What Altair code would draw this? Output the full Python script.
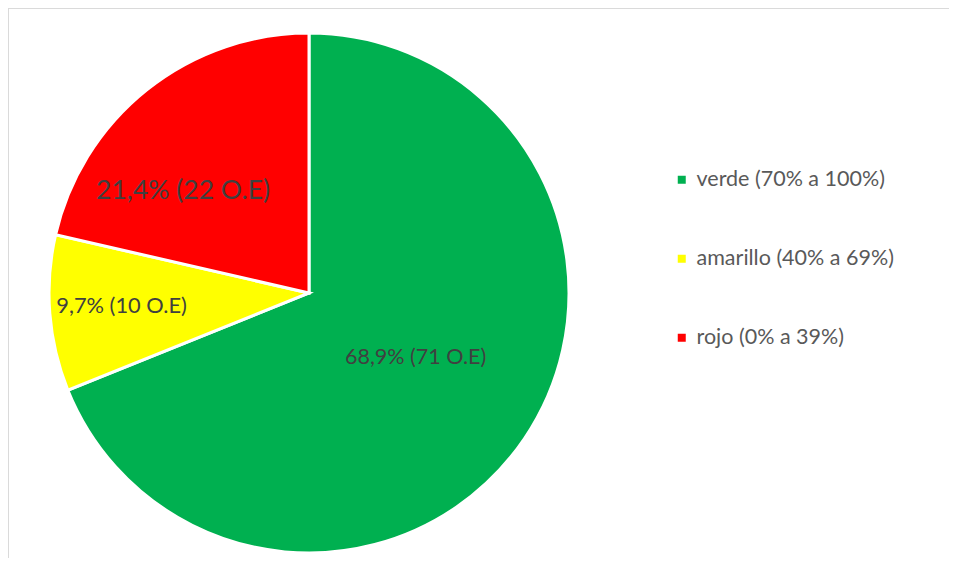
import altair as alt
import pandas as pd

categorias = ["verde (70% a 100%)", "amarillo (40% a 69%)", "rojo (0% a 39%)"]
porcentajes = [68.9, 9.7, 21.4]
cantidades = [71, 10, 22]
colores = ["#00B050", "#FFFF00", "#FF0000"]

df = pd.DataFrame({
    "categoria": categorias,
    "porcentaje": porcentajes,
    "cantidad": cantidades,
    "orden": list(range(len(categorias))),
})
df["etiqueta"] = [
    f"{str(p).replace('.', ',')}% ({c} O.E)" for p, c in zip(porcentajes, cantidades)
]

W, H = 941, 550
CX, CY, R = 301, 285, 260

pie = alt.Chart(df).mark_arc(
    x=CX, y=CY, outerRadius=R, stroke="white", strokeWidth=3
).encode(
    theta=alt.Theta("porcentaje:Q", stack=True),
    order=alt.Order("orden:Q"),
    color=alt.Color(
        "categoria:N",
        scale=alt.Scale(domain=categorias, range=colores),
        legend=alt.Legend(
            title=None,
            orient="none",
            legendX=663,
            legendY=161,
            symbolType="square",
            symbolSize=64,
            symbolStrokeWidth=0,
            labelFontSize=21.5,
            labelFont="Lato",
            labelColor="#595959",
            labelOffset=4,
            labelLimit=0,
            rowPadding=56,
        ),
    ),
)

texto_base = alt.Chart(df).transform_window(
    acum="sum(porcentaje)", sort=[alt.SortField("orden")]
).transform_joinaggregate(
    total="sum(porcentaje)"
).transform_calculate(
    medio="(datum.acum - datum.porcentaje / 2) / datum.total * 2 * PI"
)

def etiqueta(cat, radio, size, dx=0, dy=0):
    return texto_base.transform_filter(
        alt.datum.categoria == cat
    ).mark_text(
        x=CX, y=CY, radius=radio, font="Lato", fontSize=size,
        color="#404040", dx=dx, dy=dy,
    ).encode(
        theta=alt.Theta("medio:Q", scale=None),
        text="etiqueta:N",
    )

t_verde = etiqueta(categorias[0], 125, 21.5, 3, -5)
t_amar = etiqueta(categorias[1], 187, 21.8, -1, -2)
t_rojo = etiqueta(categorias[2], 162, 26.5, -25, 25)

marco = pd.DataFrame({"a": [0]})
linea_sup = alt.Chart(marco).mark_rule(color="#D9D9D9", strokeWidth=1.5).encode(
    x=alt.value(0), x2=alt.value(W), y=alt.value(0)
)
linea_izq = alt.Chart(marco).mark_rule(color="#D9D9D9", strokeWidth=1.5).encode(
    x=alt.value(0), y=alt.value(0), y2=alt.value(H)
)

chart = alt.layer(linea_sup, linea_izq, pie, t_verde, t_amar, t_rojo).properties(
    width=W, height=H, padding=0, autosize=alt.AutoSizeParams(type="none")
).configure_view(stroke=None).configure(background="white")

chart.save("out.html", embed_options={"renderer": "svg", "actions": False})
